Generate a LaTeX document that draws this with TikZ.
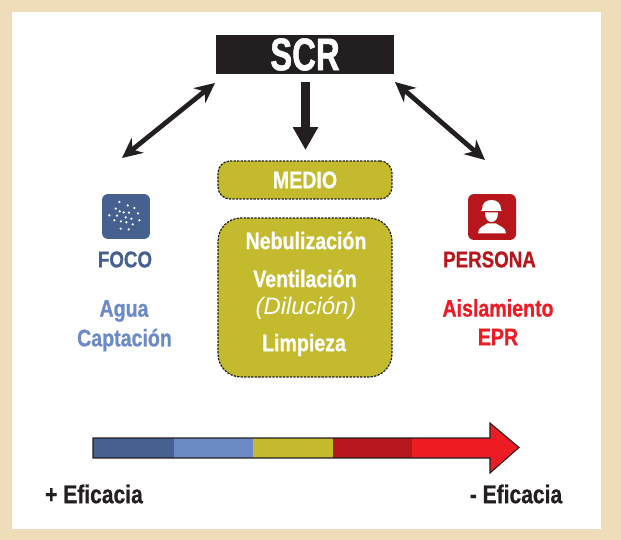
\documentclass[tikz,border=0pt]{standalone}
\usepackage{fontspec}
\setmainfont{Liberation Sans}
\newfontfamily\narrowbold[FakeStretch=0.82,FakeBold=0.7]{Liberation Sans Bold}
\newfontfamily\scrbold[FakeStretch=0.72,FakeBold=1.2]{Liberation Sans Bold}
\usetikzlibrary{arrows.meta}
\definecolor{pageFill}{HTML}{EFDDB9}
\definecolor{inkDark}{HTML}{231F20}
\definecolor{medioFill}{HTML}{C4BA2D}
\definecolor{focoDark}{HTML}{46608F}
\definecolor{focoLight}{HTML}{6C8AC5}
\definecolor{personaDark}{HTML}{B7161C}
\definecolor{personaLight}{HTML}{ED1C24}
\tikzset{
  x=0.02cm, y=-0.02cm,
  label/.style ={font=\narrowbold\fontsize{13.6}{15}\selectfont, inner sep=0pt},
  head/.style  ={font=\narrowbold\fontsize{13}{15}\selectfont, inner sep=0pt},
  medio/.style ={draw=inkDark, fill=medioFill, dash pattern=on 1.3pt off 0.7pt, line width=0.7pt},
  biarr/.style ={{Stealth[length=4mm 0 0,width=3.8mm 0 0]}-{Stealth[length=4mm 0 0,width=3.8mm 0 0]}, inkDark, line width=0.95mm},
  downarr/.style={-{Triangle[length=4.6mm 0 0,width=4.8mm 0 0]}, inkDark, line width=1.9mm},
}
\begin{document}
\begin{tikzpicture}
  % page and margins
  \fill[pageFill] (0,0) rectangle (621,540);
  \fill[white] (12,12) rectangle (601,529);
  \useasboundingbox (0,0) rectangle (621,540);

  % top box and the middle boxes
  \node[fill=inkDark, text=white, minimum width=3.56cm, minimum height=0.78cm, inner sep=0pt, font=\scrbold\fontsize{26}{28}\selectfont] (scr) at (305,54.5) {SCR};
  \node[medio, rounded corners=2.4mm, minimum width=3.48cm, minimum height=0.76cm, inner sep=0pt] (medio) at (305,180) {};
  \node[label, text=white] (mediot) at (305,180) {MEDIO};
  \node[medio, rounded corners=4.6mm, minimum width=3.48cm, minimum height=3.18cm, inner sep=0pt] (box) at (305,297.5) {};
  \node[label, text=white] (nebu) at (306,240.5) {Nebulización};
  \node[label, text=white] (vent) at (305,278.5) {Ventilación};
  \node[text=white, inner sep=0pt, font=\fontsize{13.6}{15}\selectfont\itshape] (dilu) at (306,308) {(Dilución)};
  \node[label, text=white] (limp) at (304,345) {Limpieza};

  % foco column
  \node[fill=focoDark, rounded corners=1.2mm, minimum width=0.96cm, minimum height=0.9cm, inner sep=0pt] (focoi) at (126,216.5) {};
  \foreach \px/\py in {118/66,143/76,163/84,107/86,119/94,131/97,147/98,174/100,88/106,111/107,137/112,154/116,103/121,123/124,139/127,178/121,158/133,122/146,146/148}
    \fill[white] ({80+\px/3},{180+\py/3}) circle (1.25);
  \node[head, text=focoDark] (foco) at (125,259.5) {FOCO};
  \node[label, text=focoLight] (agua) at (124,311) {Agua};
  \node[label, text=focoLight] (capt) at (124.5,340) {Captación};

  % persona column
  \node[fill=personaDark, rounded corners=1.2mm, minimum width=0.96cm, minimum height=0.92cm, inner sep=0pt] (persi) at (492,217) {};
  \fill[white] (482,209.5) .. controls (482,203) and (486,200) .. (491.5,200) .. controls (497,200) and (501,203) .. (501,209.5) -- (502,211) -- (481,211) -- cycle;
  \fill[white] (485,212.5) -- (498,212.5) .. controls (498,219) and (495,222) .. (491.5,222) .. controls (488,222) and (485,219) .. (485,212.5) -- cycle;
  \fill[white] (478,233.5) .. controls (478,227) and (484,226) .. (487,223.5) -- (496,223.5) .. controls (499,226) and (506,227) .. (506,233.5) -- cycle;
  \node[head, text=personaDark] (pers) at (489.5,259.5) {PERSONA};
  \node[label, text=personaLight] (aisl) at (498,308) {Aislamiento};
  \node[label, text=personaLight] (epr) at (498,337) {EPR};

  % connectors
  \coordinate (sl) at (215,83);
  \coordinate (fl) at (122,158);
  \coordinate (sr) at (395,82);
  \coordinate (fr) at (485,160);
  \coordinate (sd) at (305.5,82);
  \coordinate (md) at (305.5,150);
  \draw[biarr] (sl) -- (fl);
  \draw[biarr] (sr) -- (fr);
  \draw[downarr] (sd) -- (md);

  % scale bar
  \fill[focoDark] (93,438) rectangle (174,458);
  \fill[focoLight] (174,438) rectangle (252.5,458);
  \fill[medioFill] (252.5,438) rectangle (333,458);
  \fill[personaDark] (333,438) rectangle (412,458);
  \fill[personaLight] (412,438) -- (490,438) -- (490,423) -- (519,447.5) -- (490,473) -- (490,458) -- (412,458) -- cycle;
  \draw[inkDark, line width=0.6pt] (93,438) -- (490,438) -- (490,423) -- (519,447.5) -- (490,473) -- (490,458) -- (93,458) -- cycle;
  \node[label, text=inkDark, font=\narrowbold\fontsize{14.6}{16}\selectfont] (mas) at (94,494) {+ Eficacia};
  \node[label, text=inkDark, font=\narrowbold\fontsize{14.6}{16}\selectfont] (menos) at (516,494) {- Eficacia};
\end{tikzpicture}
\end{document}
